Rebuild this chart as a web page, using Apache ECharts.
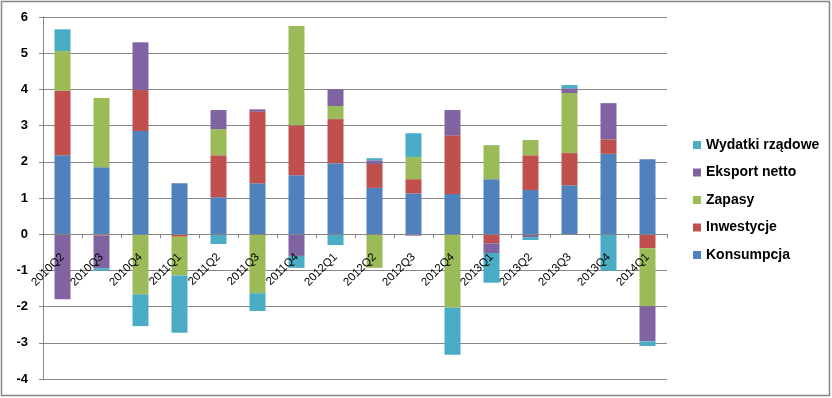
<!DOCTYPE html>
<html>
<head>
<meta charset="utf-8">
<script src="https://cdn.jsdelivr.net/npm/echarts@6/dist/echarts.min.js"></script>
<style>
  html, body { margin: 0; padding: 0; background: #fff; }
  #chart { width: 832px; height: 398px; }
</style>
</head>
<body>
<div id="chart"></div>
<script>
// kwartały
const quarters = ['2010Q2', '2010Q3', '2010Q4', '2011Q1', '2011Q2', '2011Q3', '2011Q4', '2012Q1',
  '2012Q2', '2012Q3', '2012Q4', '2013Q1', '2013Q2', '2013Q3', '2013Q4', '2014Q1']

// wkłady do wzrostu PKB (pkt proc.)
const konsumpcja = [2.18, 1.85, 2.85, 1.41, 1.02, 1.41, 1.63, 1.96, 1.28, 1.13, 1.11, 1.52, 1.22, 1.35, 2.22, 2.07]
const inwestycje = [1.78, -0.04, 1.14, -0.07, 1.16, 1.97, 1.38, 1.22, 0.66, 0.39, 1.62, -0.25, 0.96, 0.89, 0.40, -0.39]
const zapasy = [1.10, 1.91, -1.66, -1.07, 0.72, -1.63, 2.74, 0.36, -0.93, 0.61, -2.03, 0.94, 0.42, 1.66, 0, -1.60]
const eksportNetto = [-1.80, -0.90, 1.31, 0, 0.53, 0.07, -0.60, 0.46, 0.10, -0.04, 0.70, -0.27, -0.08, 0.13, 1.00, -0.97]
const wydatkiRzadowe = [0.60, -0.07, -0.88, -1.58, -0.27, -0.49, -0.33, -0.30, 0.06, 0.66, -1.30, -0.82, -0.08, 0.09, -1.01, -0.13]

const yTicks = { min: -4, max: 6, interval: 1 }

const chart = echarts.init(document.getElementById('chart'))

// os X ma lezec na zerze: wysokosc pola wykresu * udzial czesci ujemnej
const plotTop = 17, plotBottom = 19
const plotH = 398 - plotTop - plotBottom
const zeroOffset = -plotH * (0 - yTicks.min) / (yTicks.max - yTicks.min)

function bar(name, data, color) {
  return {
    name: name,
    type: 'bar',
    stack: 'pkb',
    barWidth: 16,
    itemStyle: { color: color },
    emphasis: { disabled: true },
    data: data
  }
}

const option = {
  animation: false,
  graphic: [{
    type: 'rect',
    shape: { x: 1.5, y: 1.5, width: 828, height: 394 },
    style: { fill: 'none', stroke: '#868686', lineWidth: 1.5 },
    silent: true
  }],
  grid: { left: 43, right: 165, top: plotTop, bottom: plotBottom, outerBoundsMode: 'none', containLabel: false },
  legend: {
    orient: 'vertical',
    left: 688,
    top: 133,
    icon: 'rect',
    itemWidth: 8,
    itemHeight: 8,
    itemGap: 13.5,
    data: ['Wydatki rządowe', 'Eksport netto', 'Zapasy', 'Inwestycje', 'Konsumpcja'],
    textStyle: { fontFamily: 'Liberation Sans', fontWeight: 'bold', fontSize: 14, color: '#000', lineHeight: 14 }
  },
  xAxis: {
    type: 'category',
    data: quarters,
    position: 'bottom',
    offset: zeroOffset,
    z: 10,
    axisLine: { onZero: false, lineStyle: { color: '#868686', width: 1 } },
    axisTick: { show: true, length: 4, lineStyle: { color: '#868686' } },
    axisLabel: {
      rotate: 45,
      interval: 0,
      margin: 21,
      padding: [26, 0, 0, 0],
      fontFamily: 'Liberation Sans',
      fontSize: 11.5,
      color: '#000'
    }
  },
  yAxis: {
    type: 'value',
    min: yTicks.min,
    max: yTicks.max,
    interval: yTicks.interval,
    axisLine: { show: true, lineStyle: { color: '#868686' } },
    axisTick: { show: true, length: 4, lineStyle: { color: '#868686' } },
    splitLine: { lineStyle: { color: '#868686', width: 1 } },
    axisLabel: {
      margin: 15,
      fontFamily: 'Liberation Sans',
      fontWeight: 'bold',
      fontSize: 13,
      color: '#000'
    }
  },
  series: [
    bar('Konsumpcja', konsumpcja, '#4F81BD'),
    bar('Inwestycje', inwestycje, '#C0504D'),
    bar('Zapasy', zapasy, '#9BBB59'),
    bar('Eksport netto', eksportNetto, '#8064A2'),
    bar('Wydatki rządowe', wydatkiRzadowe, '#4BACC6')
  ]
}

chart.setOption(option)
</script>
</body>
</html>
